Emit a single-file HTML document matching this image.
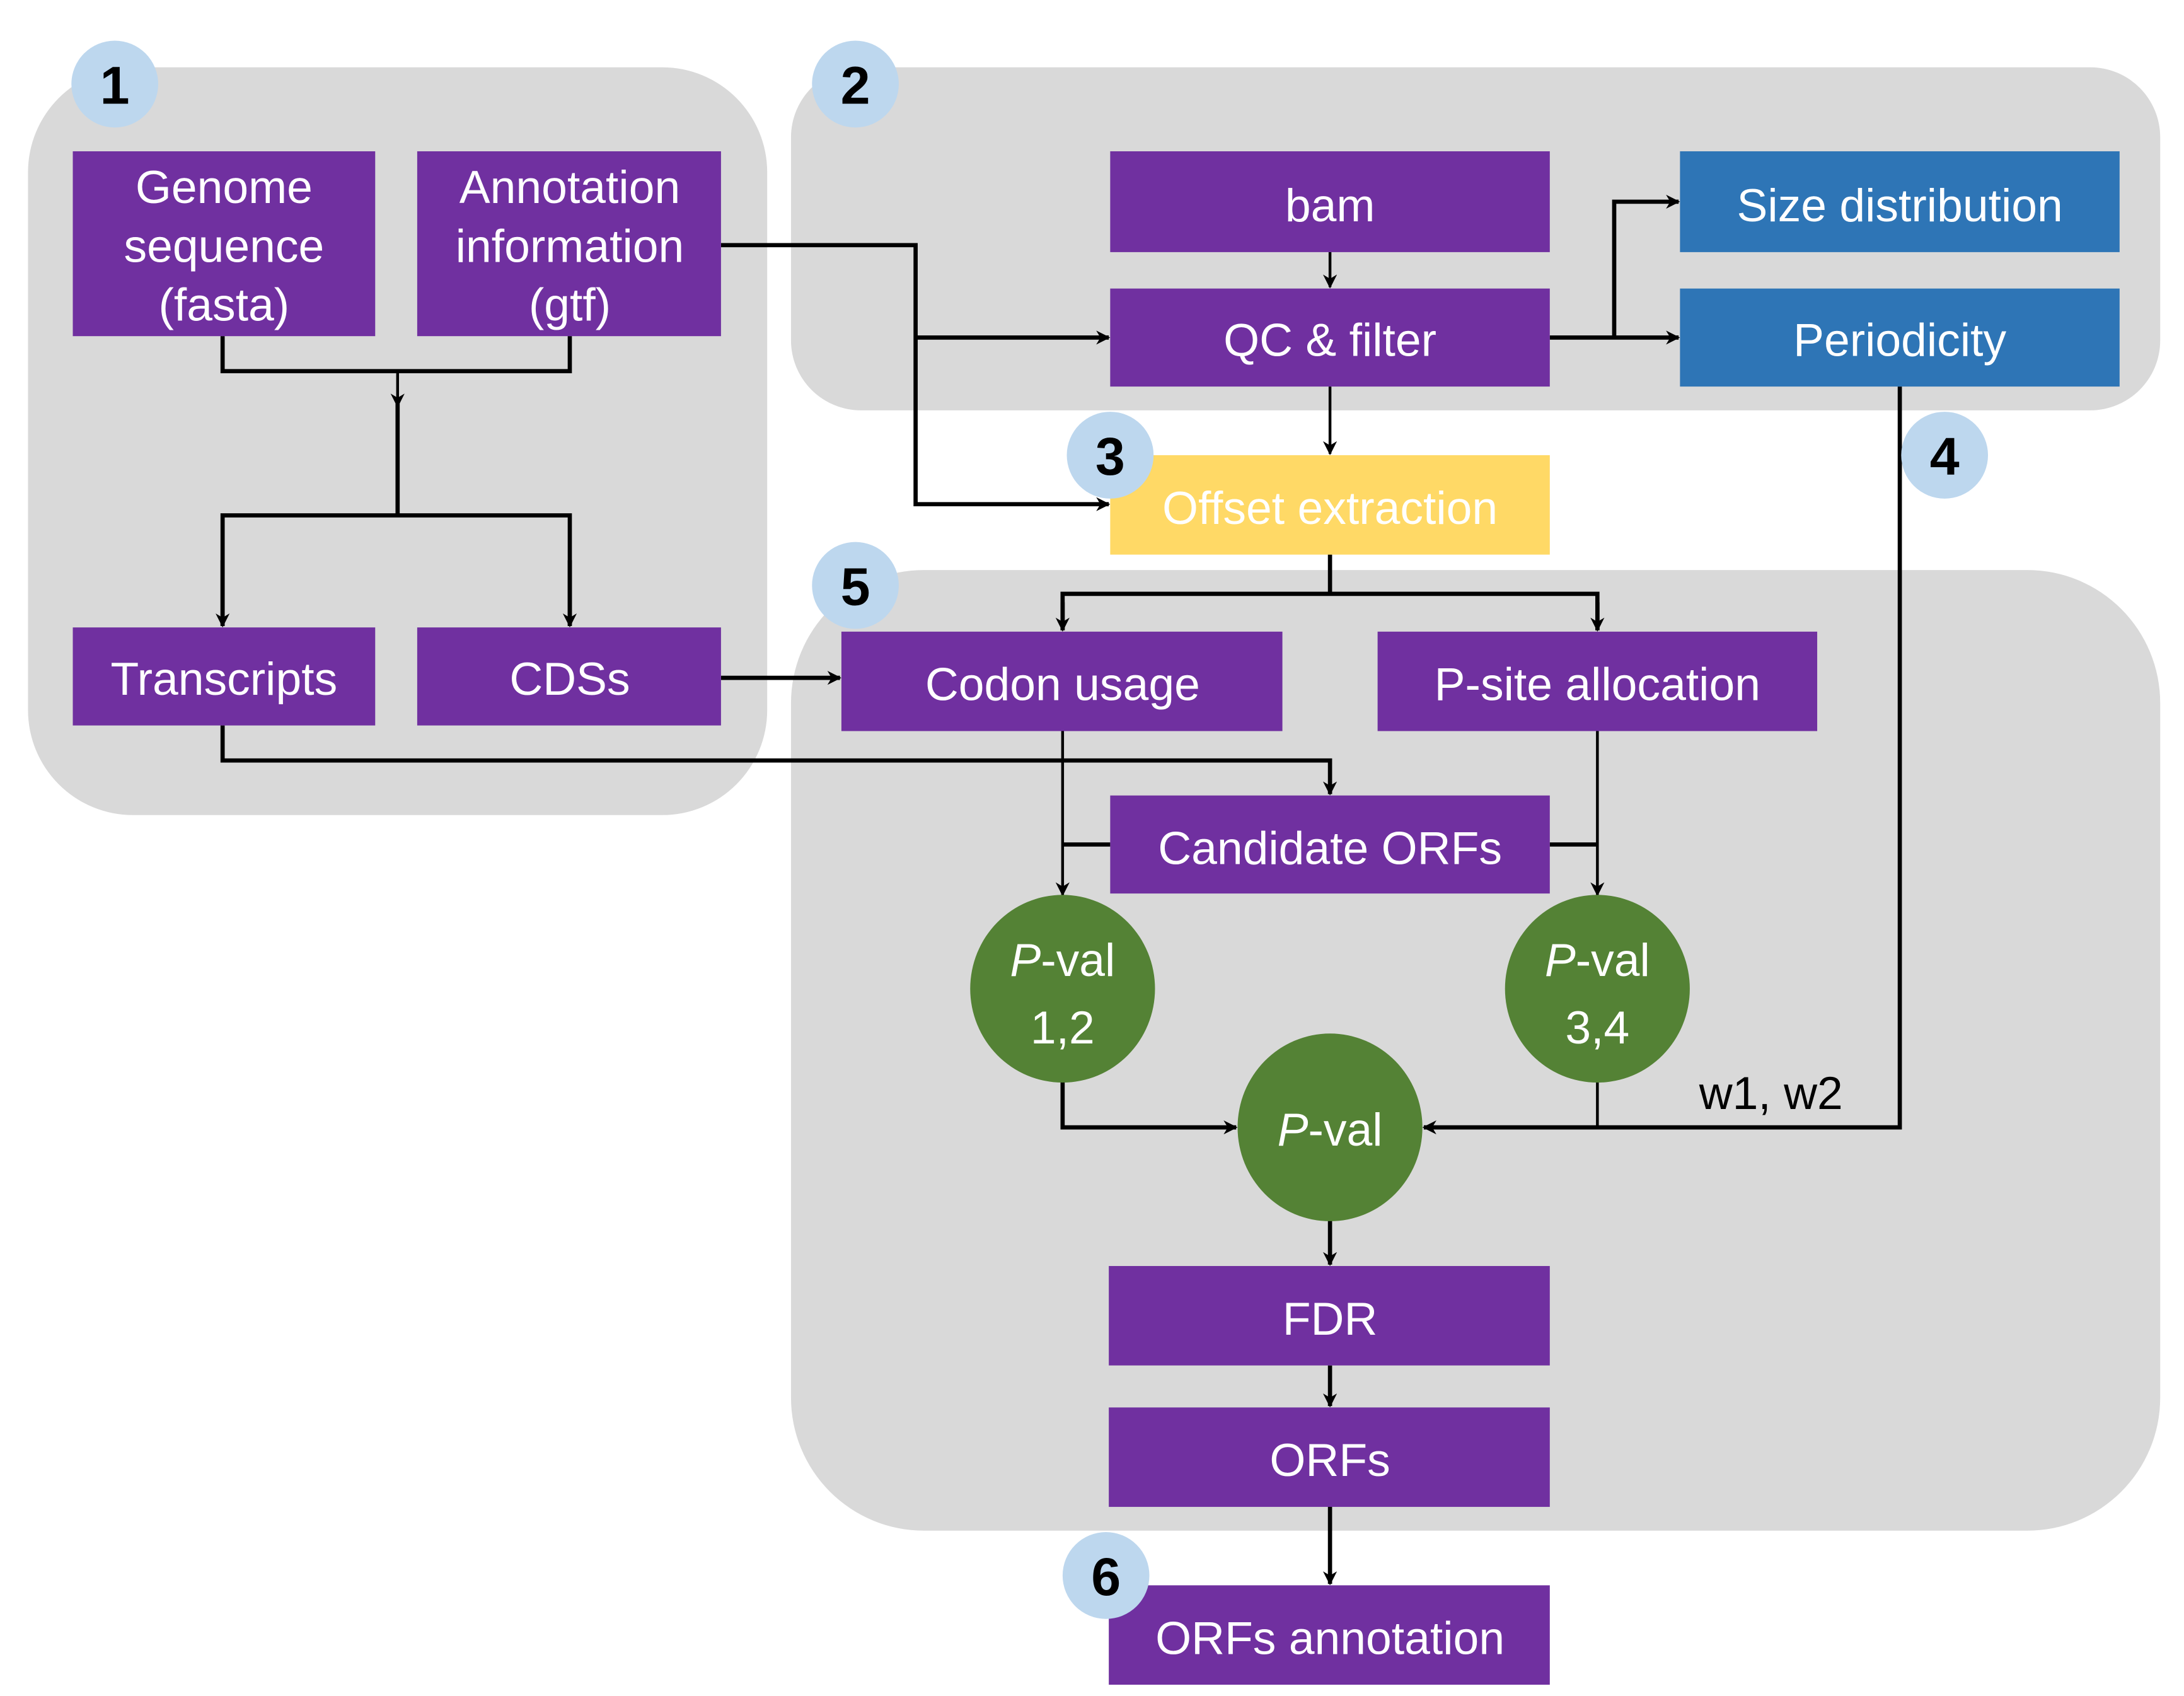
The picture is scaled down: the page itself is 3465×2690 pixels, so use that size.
<!DOCTYPE html>
<html><head><meta charset="utf-8"><style>html,body{margin:0;padding:0;background:#fff}svg{display:block}</style></head>
<body>
<svg width="3465" height="2690" viewBox="0 0 1560 1211" xmlns="http://www.w3.org/2000/svg" font-family="'Liberation Sans', sans-serif">
<defs>
<marker id="a" markerWidth="10" markerHeight="10" refX="9" refY="5" orient="auto" markerUnits="userSpaceOnUse"><path d="M0,0 L10,5 L0,10 L3,5 z" fill="#000"/></marker>
</defs>
<rect x="0" y="0" width="1560" height="1211" fill="#fff"/>
<rect x="20" y="48" width="528" height="534" rx="75" fill="#d9d9d9"/>
<rect x="565" y="48" width="978" height="245" rx="50" fill="#d9d9d9"/>
<rect x="565" y="407" width="978" height="686" rx="95" fill="#d9d9d9"/>

<g stroke="#000" stroke-width="3" fill="none">
<polyline points="159,240 159,265 407,265 407,240"/>
<line x1="284" y1="265" x2="284" y2="290" marker-end="url(#a)" stroke-width="2"/>
<polyline points="284,288 284,368"/>
<polyline points="159,446 159,368 407,368 407,446" />
<line x1="159" y1="400" x2="159" y2="447" marker-end="url(#a)"/>
<line x1="407" y1="400" x2="407" y2="447" marker-end="url(#a)"/>
<polyline points="515,175 654,175 654,360 792,360" marker-end="url(#a)"/>
<line x1="654" y1="241" x2="792" y2="241" marker-end="url(#a)"/>
<line x1="950" y1="180" x2="950" y2="205" marker-end="url(#a)" stroke-width="2"/>
<line x1="1107" y1="241" x2="1199" y2="241" marker-end="url(#a)"/>
<polyline points="1153,241 1153,144 1199,144" marker-end="url(#a)"/>
<line x1="950" y1="276" x2="950" y2="324" marker-end="url(#a)" stroke-width="2"/>
<line x1="950" y1="396" x2="950" y2="424"/>
<polyline points="759,450 759,424 1141,424 1141,450"/>
<line x1="759" y1="430" x2="759" y2="450" marker-end="url(#a)"/>
<line x1="1141" y1="430" x2="1141" y2="450" marker-end="url(#a)"/>
<line x1="515" y1="484" x2="600" y2="484" marker-end="url(#a)"/>
<polyline points="159,518 159,543 950,543 950,567" marker-end="url(#a)"/>
<line x1="759" y1="522" x2="759" y2="639" marker-end="url(#a)" stroke-width="2"/>
<line x1="759" y1="603" x2="793" y2="603"/>
<line x1="1141" y1="522" x2="1141" y2="639" marker-end="url(#a)" stroke-width="2"/>
<line x1="1107" y1="603" x2="1141" y2="603"/>
<polyline points="759,772 759,805 883,805" marker-end="url(#a)"/>
<polyline points="1357,276 1357,805 1017,805" marker-end="url(#a)"/>
<line x1="1141" y1="772" x2="1141" y2="805" stroke-width="2"/>
<line x1="950" y1="871" x2="950" y2="903" marker-end="url(#a)"/>
<line x1="950" y1="975" x2="950" y2="1004" marker-end="url(#a)"/>
<line x1="950" y1="1076" x2="950" y2="1131" marker-end="url(#a)"/>
</g>

<g fill="#7030a0">
<rect x="52" y="108" width="216" height="132"/>
<rect x="298" y="108" width="217" height="132"/>
<rect x="52" y="448" width="216" height="70"/>
<rect x="298" y="448" width="217" height="70"/>
<rect x="793" y="108" width="314" height="72"/>
<rect x="793" y="206" width="314" height="70"/>
<rect x="601" y="451" width="315" height="71"/>
<rect x="984" y="451" width="314" height="71"/>
<rect x="793" y="568" width="314" height="70"/>
<rect x="792" y="904" width="315" height="71"/>
<rect x="792" y="1005" width="315" height="71"/>
<rect x="792" y="1132" width="315" height="71"/>
</g>
<rect x="1200" y="108" width="314" height="72" fill="#2e75b6"/>
<rect x="1200" y="206" width="314" height="70" fill="#2e75b6"/>
<rect x="793" y="325" width="314" height="71" fill="#ffd966"/>
<g fill="#548235">
<ellipse cx="759" cy="706" rx="66" ry="67"/>
<ellipse cx="1141" cy="706" rx="66" ry="67"/>
<ellipse cx="950" cy="805" rx="66" ry="67"/>
</g>

<g fill="#fff" font-size="33" text-anchor="middle">
<text x="160" y="145">Genome</text>
<text x="160" y="187">sequence</text>
<text x="160" y="229">(fasta)</text>
<text x="407" y="145">Annotation</text>
<text x="407" y="187">information</text>
<text x="407" y="229">(gtf)</text>
<text x="160" y="496">Transcripts</text>
<text x="407" y="496">CDSs</text>
<text x="950" y="158">bam</text>
<text x="950" y="254">QC &amp; filter</text>
<text x="1357" y="158">Size distribution</text>
<text x="1357" y="254">Periodicity</text>
<text x="950" y="374">Offset extraction</text>
<text x="759" y="500">Codon usage</text>
<text x="1141" y="500">P-site allocation</text>
<text x="950" y="617">Candidate ORFs</text>
<text x="759" y="697"><tspan font-style="italic">P</tspan>-val</text>
<text x="759" y="745">1,2</text>
<text x="1141" y="697"><tspan font-style="italic">P</tspan>-val</text>
<text x="1141" y="745">3,4</text>
<text x="950" y="818"><tspan font-style="italic">P</tspan>-val</text>
<text x="950" y="953">FDR</text>
<text x="950" y="1054">ORFs</text>
<text x="950" y="1181">ORFs annotation</text>
</g>
<text x="1265" y="792" font-size="33" text-anchor="middle" fill="#000">w1, w2</text>

<g fill="#bdd7ee">
<circle cx="82" cy="60" r="31"/>
<circle cx="611" cy="60" r="31"/>
<circle cx="793" cy="325" r="31"/>
<circle cx="1389" cy="325" r="31"/>
<circle cx="611" cy="418" r="31"/>
<circle cx="790" cy="1125" r="31"/>
</g>
<g fill="#000" font-size="38" font-weight="bold" text-anchor="middle">
<text x="82" y="74">1</text>
<text x="611" y="74">2</text>
<text x="793" y="339">3</text>
<text x="1389" y="339">4</text>
<text x="611" y="432">5</text>
<text x="790" y="1139">6</text>
</g>
</svg>
</body></html>
